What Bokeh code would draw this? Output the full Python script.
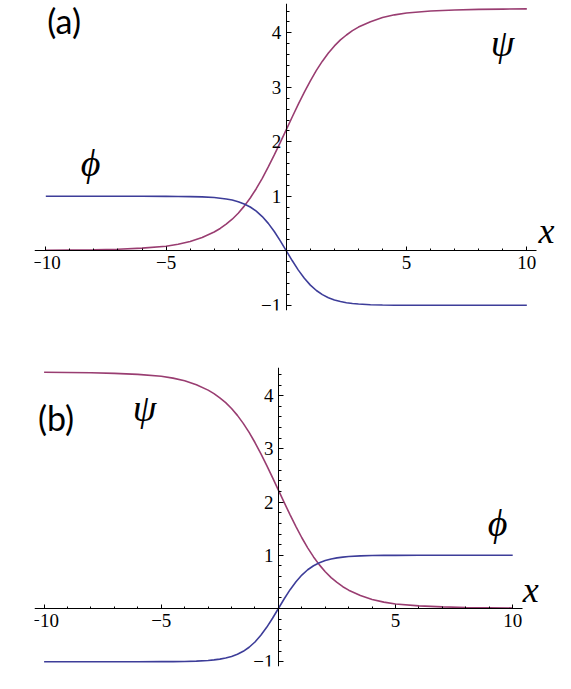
from bokeh.plotting import figure
from bokeh.layouts import column
from bokeh.models import LinearAxis, FixedTicker, Range1d, Label
from bokeh.embed import file_html
from bokeh.resources import INLINE

# ---------------- data ----------------
x_vals = [-10, -9, -8, -7, -6, -5, -4.5, -4, -3.5, -3, -2.75, -2.5, -2.25, -2,
          -1.75, -1.5, -1.25, -1, -0.75, -0.5, -0.25, 0, 0.25, 0.5, 0.75, 1,
          1.25, 1.5, 1.75, 2, 2.25, 2.5, 2.75, 3, 3.5, 4, 4.5, 5, 6, 7, 8, 9, 10]

# panel (a)
phi_a = [1.0, 1.0, 1.0, 1.0, 1.0, 0.999, 0.998, 0.995, 0.989, 0.977, 0.966,
         0.952, 0.931, 0.901, 0.860, 0.804, 0.728, 0.629, 0.504, 0.354, 0.183,
         0.0, -0.183, -0.354, -0.504, -0.629, -0.728, -0.804, -0.860, -0.901,
         -0.931, -0.952, -0.966, -0.977, -0.989, -0.995, -0.998, -0.999, -1.0,
         -1.0, -1.0, -1.0, -1.0]
psi_a = [0.01, 0.015, 0.02, 0.03, 0.05, 0.085, 0.12, 0.17, 0.245, 0.345, 0.41,
         0.49, 0.58, 0.69, 0.82, 0.97, 1.14, 1.33, 1.54, 1.76, 1.99, 2.225,
         2.46, 2.69, 2.91, 3.12, 3.31, 3.48, 3.63, 3.76, 3.87, 3.96, 4.04,
         4.105, 4.205, 4.28, 4.33, 4.365, 4.40, 4.42, 4.43, 4.435, 4.44]

# panel (b)
phi_b = [-1.0, -1.0, -1.0, -1.0, -1.0, -0.999, -0.998, -0.995, -0.989, -0.977,
         -0.966, -0.952, -0.931, -0.901, -0.860, -0.804, -0.728, -0.629,
         -0.504, -0.354, -0.183, 0.0, 0.183, 0.354, 0.504, 0.629, 0.728, 0.804,
         0.860, 0.901, 0.931, 0.952, 0.966, 0.977, 0.989, 0.995, 0.998, 0.999,
         1.0, 1.0, 1.0, 1.0, 1.0]
psi_b = [4.44, 4.435, 4.43, 4.42, 4.40, 4.365, 4.33, 4.28, 4.205, 4.105, 4.04,
         3.96, 3.87, 3.76, 3.63, 3.48, 3.31, 3.12, 2.91, 2.69, 2.46, 2.225,
         1.99, 1.76, 1.54, 1.33, 1.14, 0.97, 0.82, 0.69, 0.58, 0.49, 0.41,
         0.345, 0.245, 0.17, 0.12, 0.085, 0.05, 0.03, 0.02, 0.015, 0.01]

# ticks
x_major = [-10, -5, 5, 10]
x_major_labels = ["\u221210", "\u22125", "5", "10"]
x_minor = [-9, -8, -7, -6, -4, -3, -2, -1, 1, 2, 3, 4, 6, 7, 8, 9]
y_major = [-1, 1, 2, 3, 4]
y_major_labels = ["\u22121", "1", "2", "3", "4"]
y_minor = [-0.8, -0.6, -0.4, -0.2, 0.2, 0.4, 0.6, 0.8, 1.2, 1.4, 1.6, 1.8,
           2.2, 2.4, 2.6, 2.8, 3.2, 3.4, 3.6, 3.8, 4.2, 4.4]

PHI_COLOR = "#3d3d99"
PSI_COLOR = "#993d71"
SERIF = "Liberation Serif"


def make_panel(phi, psi, xr, xb, yr, fw, fh, borders, labels):
    left, right, top, bottom = borders
    p = figure(frame_width=fw, frame_height=fh,
               x_range=Range1d(*xr), y_range=Range1d(*yr),
               x_axis_location=None, y_axis_location=None,
               toolbar_location=None, output_backend="svg",
               min_border_left=left, min_border_right=right,
               min_border_top=top, min_border_bottom=bottom)
    p.outline_line_color = None
    p.grid.grid_line_color = None
    p.background_fill_color = "white"
    p.border_fill_color = "white"

    xaxis = LinearAxis(
        fixed_location=0, bounds=xb,
        ticker=FixedTicker(ticks=x_major, minor_ticks=x_minor),
        major_label_overrides=dict(zip(x_major, x_major_labels)),
        axis_line_color="black", axis_line_width=1,
        major_tick_in=4, major_tick_out=0, minor_tick_in=2, minor_tick_out=0,
        major_tick_line_color="black", minor_tick_line_color="black",
        major_label_text_font=SERIF, major_label_text_font_size="19px",
        major_label_text_color="black", major_label_standoff=5)
    p.add_layout(xaxis, "below")

    yaxis = LinearAxis(
        fixed_location=0,
        ticker=FixedTicker(ticks=y_major, minor_ticks=y_minor),
        major_label_overrides=dict(zip(y_major, y_major_labels)),
        axis_line_color="black", axis_line_width=1,
        major_tick_in=5, major_tick_out=0, minor_tick_in=3, minor_tick_out=0,
        major_tick_line_color="black", minor_tick_line_color="black",
        major_label_text_font=SERIF, major_label_text_font_size="19px",
        major_label_text_color="black", major_label_standoff=5)
    p.add_layout(yaxis, "left")

    p.line(x_vals, psi, line_color=PSI_COLOR, line_width=1.6)
    p.line(x_vals, phi, line_color=PHI_COLOR, line_width=1.6)

    for (txt, lx, ly, font, size, style) in labels:
        p.add_layout(Label(x=lx, y=ly, text=txt, text_font=font,
                           text_font_size=size, text_font_style=style,
                           text_align="center", text_baseline="middle",
                           text_color="black"))
    return p


pa = make_panel(phi_a, psi_a, (-10.47, 11.40), (-10.47, 10.40),
                (-1.095, 4.538), 526, 307, (25, 4, 3, 27),
                [("(a)", -9.24, 4.23, "Lato", "34px", "normal"),
                 ("\u03d5", -8.14, 1.62, SERIF, "38px", "italic"),
                 ("\u03c8", 8.99, 3.82, SERIF, "38px", "italic"),
                 ("x", 10.82, 0.36, SERIF, "36px", "italic")])

pb = make_panel(phi_b, psi_b, (-10.41, 11.40), (-10.41, 10.43),
                (-1.09, 4.53), 511, 299, (34, 10, 30, 5),
                [("(b)", -9.49, 3.59, "Lato", "34px", "normal"),
                 ("\u03c8", -5.71, 3.76, SERIF, "38px", "italic"),
                 ("\u03d5", 9.36, 1.60, SERIF, "38px", "italic"),
                 ("x", 10.77, 0.34, SERIF, "36px", "italic")])

layout = column(pa, pb, spacing=0)
open("out.html", "w").write(file_html(layout, INLINE))
